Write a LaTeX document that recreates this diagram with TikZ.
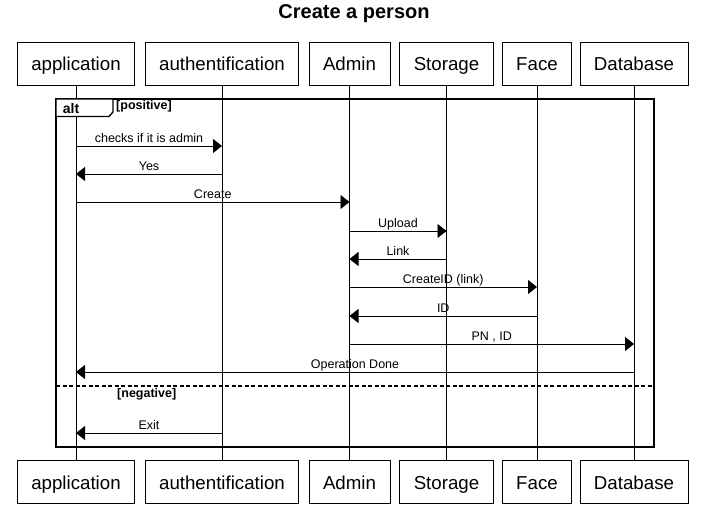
\documentclass[tikz,border=0pt]{standalone}
\usepackage{fontspec}
\setmainfont{Liberation Sans}
\usepackage{tikz}
\usetikzlibrary{arrows.meta, positioning}

\tikzset{
    actor/.style={draw, fill=white, line width=0.9pt, font=\fontsize{18.7}{22}\selectfont,
        minimum height=43pt, inner xsep=14pt, inner ysep=0pt, text height=16pt, text depth=2pt},
    msg/.style={-{Triangle[length=9pt, width=14pt]}, line width=0.9pt},
    msglabel/.style={above, inner ysep=0.3pt, inner xsep=1pt, text height=9.5pt, text depth=2.7pt,
        font=\fontsize{12.5}{15}\selectfont},
    guard/.style={anchor=west, inner sep=0pt, font=\bfseries\fontsize{12.5}{14}\selectfont}
}

\begin{document}
\begin{tikzpicture}[x=1pt, y=-1pt]
    \useasboundingbox (0,0) rectangle (708,508);
    \node[font=\bfseries\fontsize{20}{24}\selectfont] (title) at (354,14) {Create a person};

    % participants and lifelines
    \foreach \n/\x/\t in {app/76/application, auth/222/authentification, admin/349.5/Admin,
                          stor/446.5/Storage, face/537/Face, db/634/Database} {
        \node[actor] (\n) at (\x,63.5) {\t};
        \node[actor] (\n-b) at (\x,482) {\t};
        \draw[line width=0.9pt] (\n.south) -- (\n-b.north);
    }

    % alt frame
    \draw[line width=1.6pt] (56,99) rectangle (654,447);
    \filldraw[fill=white, line width=1.3pt] (56,99) -- (113,99) -- (113,112) -- (109,116.5) -- (56,116.5) -- cycle;
    \node[font=\bfseries\fontsize{14}{16}\selectfont, inner sep=0pt] (alt) at (71,108) {alt};
    \node[guard] (pos) at (116,106) {[positive]};
    \draw[line width=1.6pt, dash pattern=on 4pt off 2.5pt] (56,386) -- (654,386);
    \node[guard] (neg) at (117,394) {[negative]};

    % messages
    \foreach \y/\a/\b/\t in {146/app/auth/checks if it is admin, 174/auth/app/Yes,
                             202/app/admin/Create, 231/admin/stor/Upload, 259/stor/admin/Link,
                             287/admin/face/CreateID (link), 316/face/admin/ID,
                             344/admin/db/{PN , ID}, 372/db/app/Operation Done, 433/auth/app/Exit} {
        \draw[msg] (\a |- 0,\y) -- (\b |- 0,\y) node[msglabel, midway] {\t};
    }
\end{tikzpicture}
\end{document}
